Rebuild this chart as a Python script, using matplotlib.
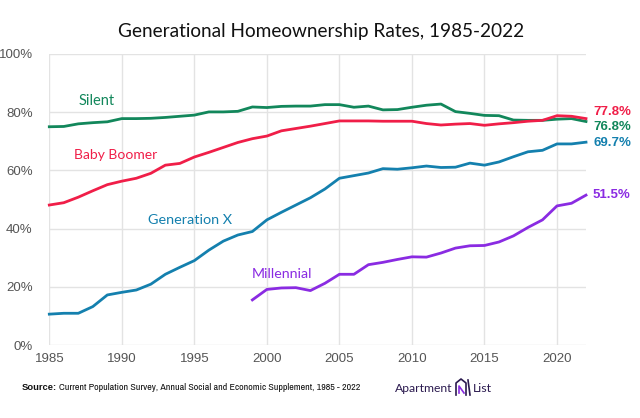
import matplotlib
matplotlib.use("Agg")
import matplotlib.pyplot as plt
from matplotlib.lines import Line2D
from matplotlib import font_manager as fm

years = list(range(1985, 2023))
silent = [75.0, 75.1, 76.0, 76.4, 76.7, 77.8, 77.8, 77.9, 78.2, 78.6, 79.0, 80.1,
          80.1, 80.3, 81.8, 81.6, 82.0, 82.1, 82.1, 82.6, 82.6, 81.7, 82.1, 80.8,
          80.9, 81.7, 82.4, 82.8, 80.2, 79.6, 78.9, 78.8, 77.3, 77.2, 77.2, 77.6,
          77.8, 76.8]
boomer = [48.1, 48.9, 50.8, 53.0, 55.1, 56.3, 57.3, 59.0, 61.8, 62.4, 64.6, 66.2,
          67.9, 69.6, 70.9, 71.8, 73.6, 74.4, 75.2, 76.1, 77.0, 77.0, 77.0, 76.9,
          76.9, 76.9, 76.1, 75.6, 75.9, 76.1, 75.5, 76.0, 76.4, 76.9, 77.2, 78.8,
          78.6, 77.8]
genx = [10.6, 10.9, 10.9, 13.2, 17.2, 18.1, 18.9, 20.9, 24.3, 26.7, 29.0, 32.6,
        35.7, 37.8, 39.0, 43.0, 45.6, 48.1, 50.6, 53.6, 57.3, 58.2, 59.1, 60.6,
        60.4, 60.9, 61.5, 61.0, 61.1, 62.5, 61.8, 62.9, 64.7, 66.4, 66.9, 69.1,
        69.1, 69.7]
mill_years = list(range(1999, 2023))
millennial = [15.5, 19.1, 19.6, 19.7, 18.7, 21.2, 24.3, 24.3, 27.6, 28.4, 29.4,
              30.3, 30.2, 31.6, 33.3, 34.1, 34.2, 35.4, 37.5, 40.4, 43.0, 47.8,
              48.7, 51.5]
end_labels = ["77.8%", "76.8%", "69.7%", "51.5%"]
x_ticks = [1985, 1990, 1995, 2000, 2005, 2010, 2015, 2020]
y_ticks = [0, 20, 40, 60, 80, 100]

C_SIL = "#12875B"
C_BOO = "#F01E48"
C_GX = "#1480AE"
C_MIL = "#8A2BE2"
GRID = "#E3E3E3"
TICK = "#555555"

fonts = fm.fontManager.ttflist
avail = {f.name for f in fonts}
main_font = "Lato" if "Lato" in avail else "DejaVu Sans"

# look for a narrow / condensed sans for the source line
narrow_font = None
narrow_stretch = "normal"
for f in fonts:
    if "Narrow" in f.name or "Condensed" in f.name:
        narrow_font = f.name
        break
if narrow_font is None:
    for f in fonts:
        st = f.stretch
        if isinstance(st, str) and "condensed" in st and f.name in ("Noto Sans", "Open Sans", "DejaVu Sans", "Roboto"):
            narrow_font = f.name
            narrow_stretch = st
            break
if narrow_font is None:
    narrow_font = "Liberation Sans"

W, H = 640, 418
fig = plt.figure(figsize=(W / 100, H / 100), dpi=100)
L, R, T, B = 49.3, 586, 54, 345
ax = fig.add_axes([L / W, 1 - B / H, (R - L) / W, (B - T) / H])

ax.set_xlim(1985, 2022)
ax.set_ylim(0, 100)
ax.set_xticks(x_ticks)
ax.set_yticks(y_ticks)
ax.set_yticklabels([f"{v}%" for v in y_ticks])
ax.grid(True, color=GRID, linewidth=1.0)
ax.set_axisbelow(True)
for s in ax.spines.values():
    s.set_visible(False)
ax.tick_params(length=0, labelsize=9.5, colors=TICK)
ax.tick_params(axis="y", pad=12)
ax.tick_params(axis="x", pad=6)
for lab in ax.get_xticklabels() + ax.get_yticklabels():
    lab.set_fontfamily("Liberation Sans")

lw = 2.0
ax.plot(years, silent, color=C_SIL, lw=lw, clip_on=False)
ax.plot(years, boomer, color=C_BOO, lw=lw, clip_on=False)
ax.plot(years, genx, color=C_GX, lw=lw, clip_on=False)
ax.plot(mill_years, millennial, color=C_MIL, lw=lw, clip_on=False)

def fx(px):
    return px / W

def fy(py):
    return 1 - py / H

renderer = fig.canvas.get_renderer()

def fit(t, width_px):
    fs = t.get_fontsize()
    w = t.get_window_extent(renderer).width
    t.set_fontsize(fs * width_px / w)
    return t

lab_kw = dict(fontsize=11, family=main_font, ha="center", va="center")
fit(fig.text(fx(97), fy(101), "Silent", color=C_SIL, **lab_kw), 36)
fit(fig.text(fx(115.5), fy(155), "Baby Boomer", color=C_BOO, **lab_kw), 83)
fit(fig.text(fx(190), fy(220), "Generation X", color=C_GX, **lab_kw), 84)
fit(fig.text(fx(282), fy(274), "Millennial", color=C_MIL, **lab_kw), 60)

end_kw = dict(fontsize=9.5, family="Liberation Sans", fontweight="bold", ha="left", va="center")
fig.text(fx(593), fy(112), end_labels[0], color=C_BOO, **end_kw)
fig.text(fx(593), fy(127), end_labels[1], color=C_SIL, **end_kw)
fig.text(fx(593), fy(143), end_labels[2], color=C_GX, **end_kw)
fig.text(fx(593), fy(195), end_labels[3], color=C_MIL, **end_kw)

fit(fig.text(fx(321), fy(32), "Generational Homeownership Rates, 1985-2022", ha="center", va="center",
             fontsize=15, family=main_font, color="#111111"), 408)

src = fig.text(fx(22), fy(388), "Source:", ha="left", va="center", fontsize=7.0,
               family="Liberation Sans", fontweight="bold", color="#111111")
fit(src, 35)
sx1 = src.get_window_extent(renderer).x1
rest = fig.text((sx1 + 2) / W, fy(388),
                "Current Population Survey, Annual Social and Economic Supplement, 1985 - 2022",
                ha="left", va="center", fontsize=7.0, family=narrow_font,
                fontstretch=narrow_stretch, color="#111111")
fit(rest, 359 - sx1 - 2)

LOGO = "#2B1A4F"
fit(fig.text(fx(395), fy(388), "Apartment", ha="left", va="center", fontsize=11,
             family=main_font, color=LOGO), 57)
fit(fig.text(fx(492), fy(388), "List", ha="right", va="center", fontsize=11,
             family=main_font, color=LOGO), 19)
# simple logo icon
ix = [fx(v) for v in (456, 456, 461, 466, 466)]
iy = [fy(v) for v in (395, 383, 379, 383, 395)]
fig.add_artist(Line2D(ix, iy, color=LOGO, lw=1.2))
fig.add_artist(Line2D([fx(459), fx(459), fx(464)], [fy(393), fy(386), fy(393)], color=C_MIL, lw=1.2))
fig.add_artist(Line2D([fx(468), fx(470)], [fy(380), fy(395)], color=LOGO, lw=1.2))

fig.savefig("out.png", dpi=100, facecolor="white")
